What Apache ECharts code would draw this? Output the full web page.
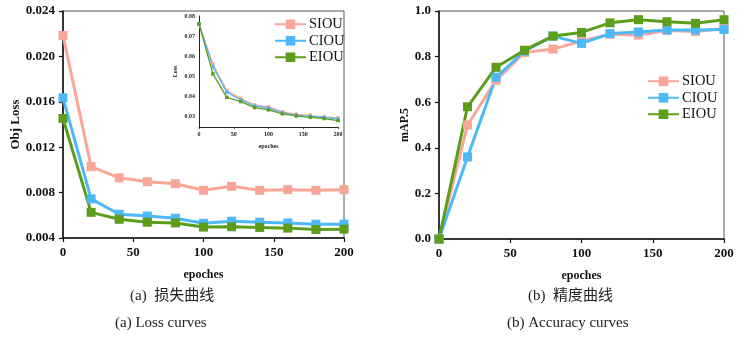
<!DOCTYPE html>
<html>
<head>
<meta charset="utf-8">
<script src="https://cdn.jsdelivr.net/npm/echarts@6/dist/echarts.min.js"></script>
<style>
  html, body { margin: 0; padding: 0; background: #fff; }
  #chart { width: 744px; height: 337px; }
</style>
</head>
<body>
<div id="chart"></div>
<script>
// Training epochs sampled every 20
const epochs = [0, 20, 40, 60, 80, 100, 120, 140, 160, 180, 200];
const seriesNames = ['SIOU', 'CIOU', 'EIOU'];

// Objectness loss
const objLossSIOU = [0.02185, 0.01029, 0.0093, 0.00896, 0.00878, 0.0082, 0.00855, 0.0082, 0.00826, 0.0082, 0.00826];
const objLossCIOU = [0.01635, 0.00745, 0.00609, 0.00594, 0.00574, 0.0053, 0.00548, 0.00539, 0.00533, 0.00522, 0.00522];
const objLossEIOU = [0.01453, 0.00626, 0.00565, 0.00539, 0.00533, 0.00496, 0.00499, 0.00493, 0.00487, 0.00475, 0.00478];

// Total loss (inset)
const lossSIOU = [0.076, 0.0562, 0.0430, 0.0392, 0.0359, 0.0350, 0.0325, 0.0313, 0.0308, 0.0300, 0.0295];
const lossCIOU = [0.076, 0.0549, 0.0422, 0.0384, 0.0354, 0.0343, 0.0320, 0.0308, 0.0303, 0.0297, 0.0290];
const lossEIOU = [0.076, 0.0513, 0.0397, 0.0376, 0.0346, 0.0335, 0.0315, 0.0305, 0.0298, 0.0292, 0.0282];

// mAP@0.5
const mapSIOU = [0, 0.50, 0.696, 0.818, 0.833, 0.868, 0.898, 0.895, 0.914, 0.910, 0.923];
const mapCIOU = [0, 0.36, 0.709, 0.824, 0.89, 0.858, 0.901, 0.908, 0.917, 0.917, 0.919];
const mapEIOU = [0, 0.58, 0.753, 0.828, 0.89, 0.906, 0.948, 0.962, 0.953, 0.946, 0.962];

// Caption texts
const captions = ['(a)  损失曲线', '(a) Loss curves', '(b)  精度曲线', '(b) Accuracy curves'];

const colors = { SIOU: '#F9A597', CIOU: '#4DB9FB', EIOU: '#5C9E1C' };
const serif = '"Liberation Serif", "Times New Roman", "Noto Sans CJK SC", serif';

const pairs = (ys) => epochs.map((x, i) => [x, ys[i]]);

function mainLine(name, ys, gi) {
  return {
    name: name, type: 'line', xAxisIndex: gi, yAxisIndex: gi,
    data: pairs(ys), symbol: 'rect', symbolSize: 9,
    lineStyle: { width: 3, color: colors[name] },
    itemStyle: { color: colors[name] },
    emphasis: { disabled: true }, animation: false, z: 3
  };
}
function insetLine(name, ys) {
  return {
    name: name + ' ', type: 'line', xAxisIndex: 1, yAxisIndex: 1,
    data: pairs(ys), symbol: 'rect', symbolSize: 3.5,
    lineStyle: { width: 1.3, color: colors[name] },
    itemStyle: { color: colors[name] },
    emphasis: { disabled: true }, animation: false, z: 4
  };
}

const axisLbl = { fontFamily: serif, fontWeight: 'bold', fontSize: 13, color: '#111' };
const axisLine = { show: true, lineStyle: { color: '#111', width: 1.5 } };
const axisTick = { show: true, length: 4, lineStyle: { color: '#111', width: 1.2 } };
const insetFont = { fontFamily: serif, fontWeight: 'bold', fontSize: 6, color: '#222' };

function xAx(gi, name, opts) {
  return Object.assign({
    type: 'value', gridIndex: gi, min: 0, max: 200, interval: 50,
    name: name, nameLocation: 'middle', nameGap: 31,
    nameTextStyle: { fontFamily: serif, fontWeight: 'bold', fontSize: 12, color: '#111' },
    axisLine: axisLine, axisTick: axisTick, axisLabel: axisLbl,
    splitLine: { show: false }
  }, opts || {});
}

function legendAt(left, top) {
  return {
    data: seriesNames, orient: 'vertical', left: left, top: top, padding: 0,
    itemGap: 2, itemWidth: 31, itemHeight: 12,
    textStyle: { fontFamily: serif, fontSize: 14.5, color: '#111', padding: [0, 0, 0, -2] }
  };
}

const chart = echarts.init(document.getElementById('chart'), null, { renderer: 'canvas' });
chart.setOption({
  backgroundColor: '#fff',
  animation: false,
  grid: [
    { left: 63, right: 400, top: 11, bottom: 99, show: true, borderColor: '#555', borderWidth: 1, backgroundColor: 'transparent' },
    { left: 199, right: 406, top: 16, bottom: 210, show: false },
    { left: 439, right: 20, top: 11, bottom: 98, show: true, borderColor: '#555', borderWidth: 1, backgroundColor: 'transparent' }
  ],
  legend: [legendAt(274, 17), legendAt(647, 74)],
  xAxis: [
    xAx(0, 'epoches'),
    xAx(1, 'epoches', {
      nameGap: 16,
      nameTextStyle: insetFont,
      axisLine: { show: true, lineStyle: { color: '#222', width: 1 } },
      axisTick: { show: true, length: 2, lineStyle: { color: '#222', width: 0.8 } },
      axisLabel: Object.assign({ margin: 4 }, insetFont)
    }),
    xAx(2, 'epoches')
  ],
  yAxis: [
    {
      type: 'value', gridIndex: 0, min: 0.004, max: 0.024, interval: 0.004,
      name: 'Obj Loss', nameLocation: 'middle', nameGap: 40, nameRotate: 90,
      nameTextStyle: { fontFamily: serif, fontWeight: 'bold', fontSize: 13, color: '#111' },
      axisLine: axisLine, axisTick: axisTick,
      axisLabel: Object.assign({}, axisLbl, { formatter: v => v.toFixed(3) }),
      splitLine: { show: false }
    },
    {
      type: 'value', gridIndex: 1, min: 0.025, max: 0.08, interval: 0.005,
      name: 'Loss', nameLocation: 'middle', nameGap: 21, nameRotate: 90,
      nameTextStyle: insetFont,
      axisLine: { show: true, lineStyle: { color: '#222', width: 1 } },
      axisTick: { show: false },
      axisLabel: Object.assign({ margin: 4,
        formatter: v => (Math.abs(v * 100 - Math.round(v * 100)) < 1e-6 ? v.toFixed(2) : '') }, insetFont),
      splitLine: { show: false }
    },
    {
      type: 'value', gridIndex: 2, min: 0, max: 1.0, interval: 0.2,
      name: 'mAP.5', nameLocation: 'middle', nameGap: 27, nameRotate: 90,
      nameTextStyle: { fontFamily: serif, fontWeight: 'bold', fontSize: 12, color: '#111' },
      axisLine: axisLine, axisTick: axisTick,
      axisLabel: Object.assign({}, axisLbl, { formatter: v => v.toFixed(1) }),
      splitLine: { show: false }
    }
  ],
  series: [
    mainLine('SIOU', objLossSIOU, 0),
    mainLine('CIOU', objLossCIOU, 0),
    mainLine('EIOU', objLossEIOU, 0),
    insetLine('SIOU', lossSIOU),
    insetLine('CIOU', lossCIOU),
    insetLine('EIOU', lossEIOU),
    mainLine('SIOU', mapSIOU, 2),
    mainLine('CIOU', mapCIOU, 2),
    mainLine('EIOU', mapEIOU, 2)
  ],
  graphic: [
    { type: 'text', left: 130, top: 289, style: { text: captions[0], font: '15px ' + serif, fill: '#222' } },
    { type: 'text', left: 115, top: 316, style: { text: captions[1], font: '15px ' + serif, fill: '#222' } },
    { type: 'text', left: 528, top: 289, style: { text: captions[2], font: '15px ' + serif, fill: '#222' } },
    { type: 'text', left: 507, top: 316, style: { text: captions[3], font: '15px ' + serif, fill: '#222' } }
  ]
});
</script>
</body>
</html>
